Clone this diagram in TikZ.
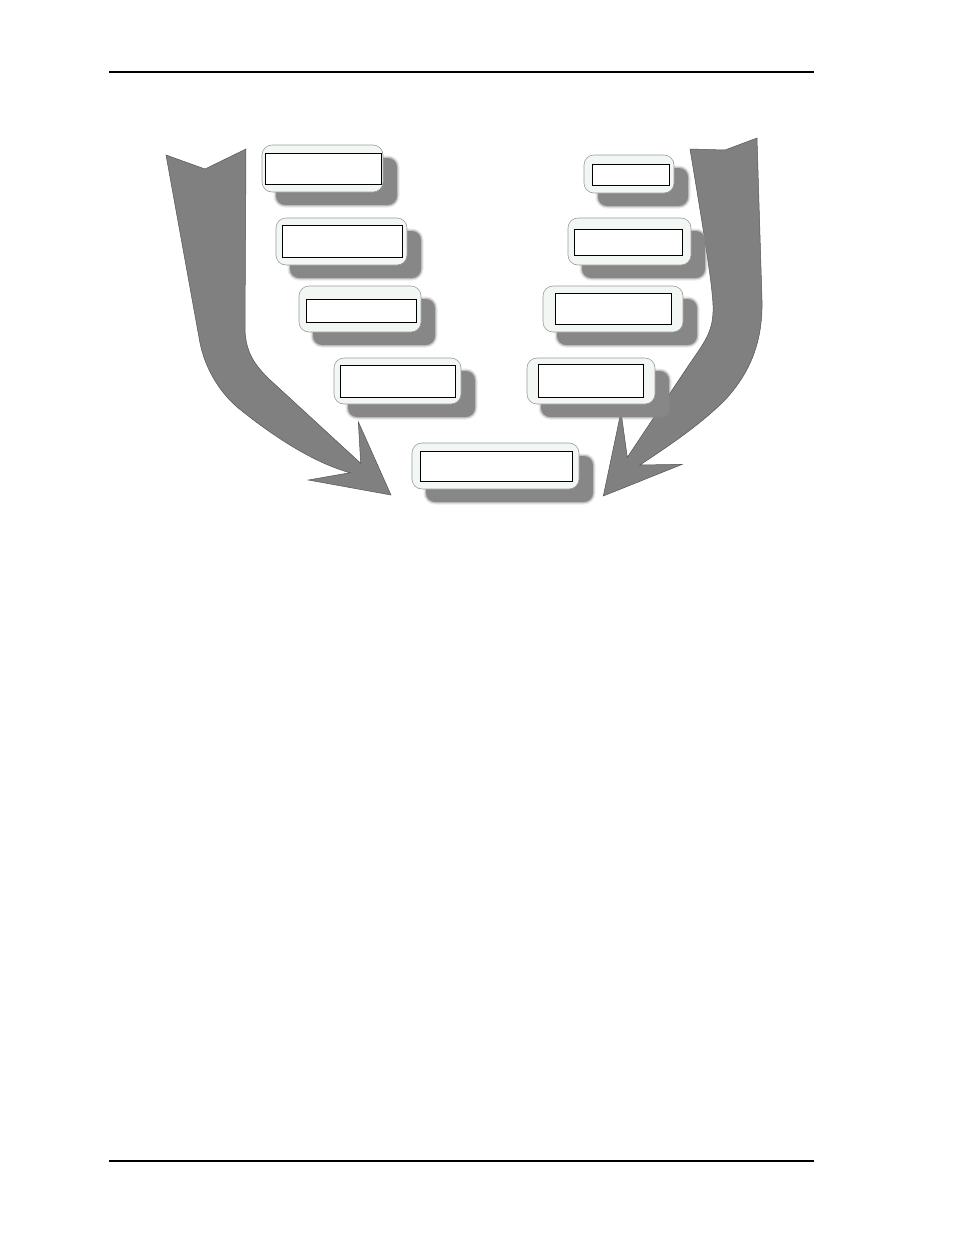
\documentclass[tikz,border=0pt]{standalone}
\usetikzlibrary{fit}
\definecolor{arrowgray}{HTML}{808080}
\definecolor{arrowedge}{HTML}{555555}
\definecolor{shadowgray}{HTML}{878787}
\definecolor{boxfill}{HTML}{F3F7F3}
\definecolor{boxedge}{HTML}{9A9A9A}
\pgfdeclarelayer{arrowlayer}
\pgfdeclarelayer{shadowlayer}
\pgfsetlayers{arrowlayer,shadowlayer,main}
\tikzset{
  outerbox/.style={draw=boxedge, line width=0.6pt, fill=boxfill, rounded corners=10pt, inner sep=0pt, outer sep=0pt},
  innerbox/.style={draw=black, line width=0.9pt, fill=white, inner sep=0pt, outer sep=0pt},
  bigarrow/.style={fill=arrowgray, draw=arrowedge, line width=0.5pt, line join=miter},
  shadowcore/.style={fill=shadowgray, rounded corners=9pt},
  shadowhalo/.style={draw=shadowgray, rounded corners=9pt},
  rule/.style={draw=black}
}
\newcommand{\pairbox}[9]{%
  \node[outerbox, fit={(#2,#3) (#4,#5)}] (#1) {};
  \node[innerbox, fit={(#6,#7) (#8,#9)}] (#1i) {};
  \begin{pgfonlayer}{shadowlayer}
    \path[shadowhalo, line width=5pt, draw opacity=0.18] ([shift={(14,13)}]#1.north west) rectangle ([shift={(14,13)}]#1.south east);
    \path[shadowhalo, line width=2.5pt, draw opacity=0.4] ([shift={(14,13)}]#1.north west) rectangle ([shift={(14,13)}]#1.south east);
    \path[shadowcore] ([shift={(14,13)}]#1.north west) rectangle ([shift={(14,13)}]#1.south east);
  \end{pgfonlayer}
}
\begin{document}
\begin{tikzpicture}[x=1pt, y=-1pt]
\useasboundingbox (0,0) rectangle (954,1235);

% page rules
\coordinate (h1) at (109,72);
\coordinate (h2) at (814,72);
\coordinate (f1) at (109,1161);
\coordinate (f2) at (814,1161);
\draw[rule, line width=1.1pt] (h1) -- (h2);
\draw[rule, line width=2pt] (f1) -- (f2);

% left boxes
\pairbox{L1}{262}{145}{383}{192}{265}{153}{381}{184}
\pairbox{L2}{276}{218}{407}{265}{282}{225}{402}{257}
\pairbox{L3}{299}{286}{421}{332}{306}{299}{416}{322}
\pairbox{L4}{334}{358}{461}{404}{340}{365}{455}{397}
% bottom box
\pairbox{B}{412}{443}{579}{489}{420}{451}{572}{481}
% right boxes
\pairbox{R1}{584}{155}{674}{193}{592}{164}{669}{185}
\pairbox{R2}{568}{218}{691}{265}{574}{229}{682}{255}
\pairbox{R3}{543}{286}{683}{332}{555}{293}{671}{324}
\pairbox{R4}{527}{358}{655}{404}{538}{364}{643}{397}

\begin{pgfonlayer}{arrowlayer}
% left big arrow
\path[bigarrow] (166,155) -- (205,169) -- (246,149) -- (245,330)
  .. controls (246,350) and (252,362) .. (268,378)
  -- (360.7,463.3) -- (358.3,421.7) -- (391,495) -- (308.3,480) -- (350,472.7)
  .. controls (310,462) and (265,430) .. (237,407)
  .. controls (222,394) and (206,372) .. (200,343)
  -- cycle;
% right big arrow
\path[bigarrow] (690,149) -- (725,150) -- (757,138) -- (762,300)
  .. controls (763,345) and (748,375) .. (725,400)
  .. controls (700,425) and (670,445) .. (640,465)
  -- (682.3,464.3) -- (603.3,496) -- (621,411.7) -- (627.3,457.3)
  -- (690,363.3)
  .. controls (706,340) and (714,330) .. (713,305)
  .. controls (712,280) and (700,210) .. cycle;
\end{pgfonlayer}
\end{tikzpicture}
\end{document}
